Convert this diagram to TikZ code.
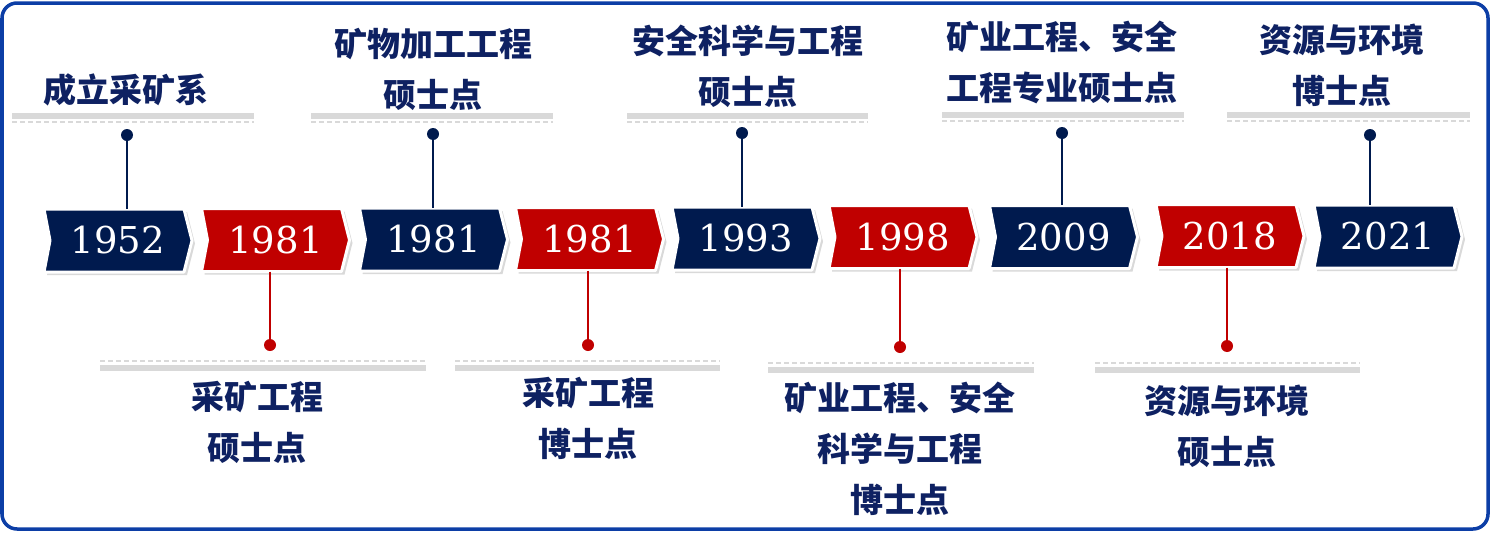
\documentclass[tikz,border=0pt]{standalone}
\usepackage{fontspec}
\setmainfont{DejaVu Serif}
\newfontfamily\cjk{Noto Sans CJK SC}
\usetikzlibrary{shadows}
\definecolor{xanhdam}{RGB}{0,26,78}
\definecolor{dodam}{RGB}{192,0,0}
\definecolor{chuxanh}{RGB}{14,33,98}
\definecolor{vien}{RGB}{12,62,166}
\definecolor{xam}{RGB}{217,217,217}
\begin{document}
\begin{tikzpicture}[x=1pt,y=-1pt,line join=round,
	nam/.style={minimum width=148pt,minimum height=63pt,inner sep=0pt,text=white,font=\fontsize{37}{40}\selectfont},
	cham/.style={circle,inner sep=0pt,minimum size=12pt},
	chu/.style={text=chuxanh,align=center,font=\cjk\bfseries\fontsize{33}{51}\selectfont},
	vach/.style={line width=2.6pt}]
	\useasboundingbox (0,0) rectangle (1491,541);
	\draw[vien,line width=3.5pt,rounded corners=15pt] (2,3) rectangle (1488,529);
	% cac moc nam
	\foreach \i/\x/\y/\mau/\nam in {1/118/240.5/xanhdam/1952,2/275.5/240/dodam/1981,3/433.5/239.5/xanhdam/1981,4/589.5/239/dodam/1981,5/746/238.5/xanhdam/1993,6/903/237/dodam/1998,7/1063.5/237/xanhdam/2009,8/1230/236/dodam/2018,9/1388/236.5/xanhdam/2021}
	{
		\path[fill=\mau,draw=white,line width=3pt,drop shadow={shadow xshift=3pt,shadow yshift=-3pt,opacity=.3}] (\x-74,\y-31.5)--(\x+66,\y-31.5)--(\x+74,\y)--(\x+66,\y+31.5)--(\x-74,\y+31.5)--(\x-68,\y)--cycle;
		\node[nam] (y\i) at (\x,\y) {\nam};
	}
	% vach xam phia tren
	\foreach \a/\b/\c in {12/254/113,311/553/113,627/868/113,942/1184/112,1227/1470/112}
	{
		\fill[xam] (\a,\c) rectangle (\b,\c+6);
		\draw[xam,line width=1.5pt,dash pattern=on 5pt off 3pt] (\a,\c+9)--(\b,\c+9);
	}
	% vach xam phia duoi
	\foreach \a/\b/\c in {100/426/361,455/720/361,768/1034/363,1095/1360/363}
	{
		\draw[xam,line width=1.5pt,dash pattern=on 5pt off 3pt] (\a,\c)--(\b,\c);
		\fill[xam] (\a,\c+4) rectangle (\b,\c+10);
	}
	% cham va vach noi
	\node[cham,fill=xanhdam] (d1) at (127,135) {};
	\node[cham,fill=dodam] (d2) at (270,345) {};
	\node[cham,fill=xanhdam] (d3) at (433,134) {};
	\node[cham,fill=dodam] (d4) at (588,345) {};
	\node[cham,fill=xanhdam] (d5) at (742,133) {};
	\node[cham,fill=dodam] (d6) at (900,347) {};
	\node[cham,fill=xanhdam] (d7) at (1062,133) {};
	\node[cham,fill=dodam] (d8) at (1227,346) {};
	\node[cham,fill=xanhdam] (d9) at (1370,135) {};
	\foreach \i in {1,3,5,7,9}
	\draw[xanhdam,vach] (d\i.center)--(d\i |- y\i.north);
	\foreach \i in {2,4,6,8}
	\draw[dodam,vach] (d\i |- y\i.south)--(d\i.center);
	% chu
	\node[chu] (t1) at (126,90) {成立采矿系};
	\node[chu] (t3) at (433,69) {矿物加工工程\\硕士点};
	\node[chu] (t5) at (748,66.5) {安全科学与工程\\硕士点};
	\node[chu] (t7) at (1062,62.5) {矿业工程、安全\\工程专业硕士点};
	\node[chu] (t9) at (1342,65) {资源与环境\\博士点};
	\node[chu] (t2) at (257,422.5) {采矿工程\\硕士点};
	\node[chu] (t4) at (588,418) {采矿工程\\博士点};
	\node[chu] (t6) at (900,449) {矿业工程、安全\\科学与工程\\博士点};
	\node[chu] (t8) at (1227,426.5) {资源与环境\\硕士点};
\end{tikzpicture}
\end{document}
